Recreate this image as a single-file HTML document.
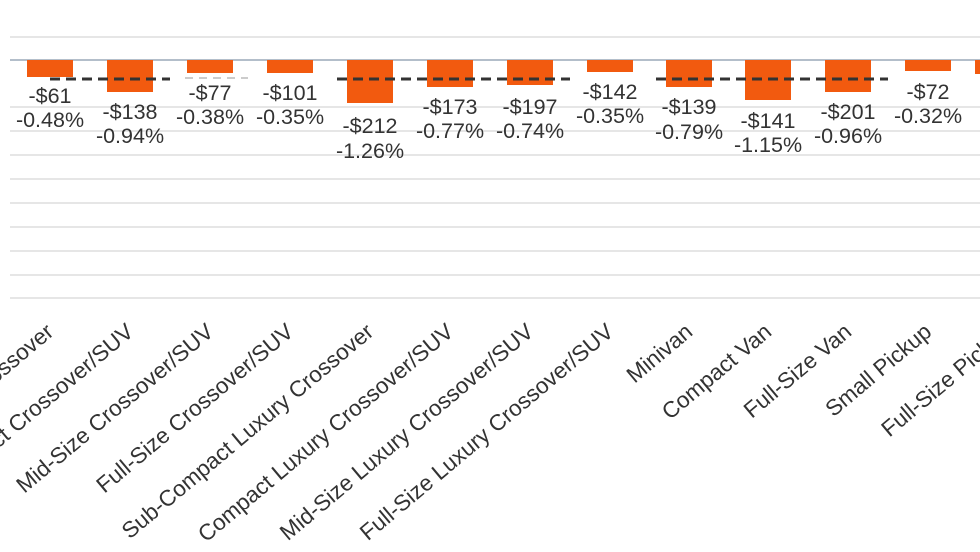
<!DOCTYPE html>
<html><head><meta charset="utf-8"><style>
html,body{margin:0;padding:0;background:#fff;}
svg{display:block;font-family:"Liberation Sans",Arial,sans-serif;}
</style></head><body>
<svg width="980" height="552" viewBox="0 0 980 552" xmlns="http://www.w3.org/2000/svg">
<g stroke="#e6e6e6" stroke-width="2">
<line x1="10" y1="37" x2="980" y2="37"/>
<line x1="10" y1="107" x2="980" y2="107"/>
<line x1="10" y1="131" x2="980" y2="131"/>
<line x1="10" y1="155" x2="980" y2="155"/>
<line x1="10" y1="179" x2="980" y2="179"/>
<line x1="10" y1="203" x2="980" y2="203"/>
<line x1="10" y1="227" x2="980" y2="227"/>
<line x1="10" y1="251" x2="980" y2="251"/>
<line x1="10" y1="275" x2="980" y2="275"/>
<line x1="10" y1="298" x2="980" y2="298"/>
</g>
<line x1="10" y1="60" x2="980" y2="60" stroke="#9aa8b8" stroke-width="1.5"/>
<g fill="#f25a0f">
<rect x="27" y="60" width="46" height="17"/>
<rect x="107" y="60" width="46" height="32"/>
<rect x="187" y="60" width="46" height="13"/>
<rect x="267" y="60" width="46" height="13"/>
<rect x="347" y="60" width="46" height="43"/>
<rect x="427" y="60" width="46" height="27"/>
<rect x="507" y="60" width="46" height="25"/>
<rect x="587" y="60" width="46" height="12"/>
<rect x="666" y="60" width="46" height="27"/>
<rect x="745" y="60" width="46" height="40"/>
<rect x="825" y="60" width="46" height="32"/>
<rect x="905" y="60" width="46" height="11"/>
<rect x="975" y="60" width="10" height="14"/>
</g>
<g stroke="#333" stroke-width="3" stroke-dasharray="10,6">
<line x1="50" y1="79" x2="170" y2="79"/>
<line x1="337" y1="79" x2="570" y2="79"/>
<line x1="656" y1="79" x2="888" y2="79"/>
</g>
<line x1="185" y1="78" x2="248" y2="78" stroke="#ccc" stroke-width="2" stroke-dasharray="8,6"/>
<g font-size="21.5" fill="#333" text-anchor="middle">
<text x="50" y="103">-$61</text><text x="50" y="127">-0.48%</text>
<text x="130" y="119">-$138</text><text x="130" y="143">-0.94%</text>
<text x="210" y="100">-$77</text><text x="210" y="124">-0.38%</text>
<text x="290" y="100">-$101</text><text x="290" y="124">-0.35%</text>
<text x="370" y="133">-$212</text><text x="370" y="158">-1.26%</text>
<text x="450" y="114">-$173</text><text x="450" y="138">-0.77%</text>
<text x="530" y="114">-$197</text><text x="530" y="138">-0.74%</text>
<text x="610" y="99">-$142</text><text x="610" y="123">-0.35%</text>
<text x="689" y="114">-$139</text><text x="689" y="139">-0.79%</text>
<text x="768" y="128">-$141</text><text x="768" y="152">-1.15%</text>
<text x="848" y="119">-$201</text><text x="848" y="143">-0.96%</text>
<text x="928" y="99">-$72</text><text x="928" y="123">-0.32%</text>
<text x="985" y="123">-</text>
</g>
<g font-size="22.5" fill="#333" text-anchor="end">
<text transform="translate(55,334) rotate(-40)">Small Crossover</text>
<text transform="translate(135,334) rotate(-40)">Compact Crossover/SUV</text>
<text transform="translate(215,334) rotate(-40)">Mid-Size Crossover/SUV</text>
<text transform="translate(295,334) rotate(-40)">Full-Size Crossover/SUV</text>
<text transform="translate(375,334) rotate(-40)">Sub-Compact Luxury Crossover</text>
<text transform="translate(455,334) rotate(-40)">Compact Luxury Crossover/SUV</text>
<text transform="translate(535,334) rotate(-40)">Mid-Size Luxury Crossover/SUV</text>
<text transform="translate(615,334) rotate(-40)">Full-Size Luxury Crossover/SUV</text>
<text transform="translate(694,334) rotate(-40)">Minivan</text>
<text transform="translate(773,334) rotate(-40)">Compact Van</text>
<text transform="translate(853,334) rotate(-40)">Full-Size Van</text>
<text transform="translate(933,334) rotate(-40)">Small Pickup</text>
<text transform="translate(1013,334) rotate(-40)">Full-Size Pickup</text>
</g>
</svg>
</body></html>
